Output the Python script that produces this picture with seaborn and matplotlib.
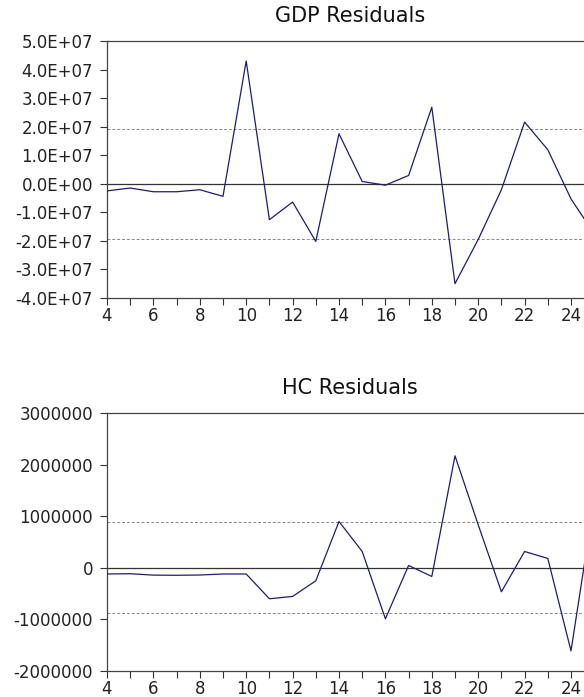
import numpy as np
import pandas as pd
import seaborn as sns
import matplotlib
matplotlib.use("Agg")
import matplotlib.pyplot as plt

# Data
periods = list(range(4, 26))
gdp_resid = [-2.5e6, -1.5e6, -2.8e6, -2.8e6, -2.1e6, -4.4e6, 4.3e7, -1.26e7,
             -6.4e6, -2.02e7, 1.75e7, 0.8e6, -0.5e6, 2.9e6, 2.68e7, -3.5e7,
             -1.95e7, -2.1e6, 2.16e7, 1.19e7, -5.3e6, -1.75e7]
hc_resid = [-120000, -115000, -142000, -145000, -140000, -120000, -120000,
            -600000, -555000, -252000, 897000, 316000, -988000, 45000,
            -168000, 2170000, 833000, -465000, 316000, 181000, -1610000, 1300000]

gdp_band = 1.92e7
hc_band = 880000

gdp_yticks = [5e7, 4e7, 3e7, 2e7, 1e7, 0, -1e7, -2e7, -3e7, -4e7]
gdp_ylabels = ["5.0E+07", "4.0E+07", "3.0E+07", "2.0E+07", "1.0E+07",
               "0.0E+00", "-1.0E+07", "-2.0E+07", "-3.0E+07", "-4.0E+07"]
hc_yticks = [3000000, 2000000, 1000000, 0, -1000000, -2000000]
hc_ylabels = ["3000000", "2000000", "1000000", "0", "-1000000", "-2000000"]
xticks_major = [4, 6, 8, 10, 12, 14, 16, 18, 20, 22, 24]

df = pd.DataFrame({"period": periods, "GDP": gdp_resid, "HC": hc_resid})

sns.set_style("ticks")
plt.rcParams["font.family"] = ["DejaVu Sans"]

fig = plt.figure(figsize=(5.84, 6.97), dpi=100)
# axes run past the right edge, like the cropped original
ax1 = fig.add_axes([0.1832, 0.5725, 0.874, 0.3687])
ax2 = fig.add_axes([0.1832, 0.0373, 0.874, 0.3702])

panels = [
    (ax1, "GDP", "GDP Residuals", gdp_band, gdp_yticks, gdp_ylabels, (-4e7, 5e7)),
    (ax2, "HC", "HC Residuals", hc_band, hc_yticks, hc_ylabels, (-2e6, 3e6)),
]

for ax, col, title, band, yt, yl, ylim in panels:
    ax.axhline(0, color="#333333", lw=0.9, zorder=1)
    ax.axhline(band, color="#888888", lw=0.7, ls=(0, (3, 2)), zorder=1)
    ax.axhline(-band, color="#888888", lw=0.7, ls=(0, (3, 2)), zorder=1)
    sns.lineplot(data=df, x="period", y=col, ax=ax, color="#1c1c78", lw=0.9, zorder=3)
    ax.set_xlim(4, 26)
    ax.set_ylim(*ylim)
    ax.set_yticks(yt)
    ax.set_yticklabels(yl)
    ax.set_xticks(xticks_major)
    ax.set_xticks(periods, minor=True)
    ax.set_xlabel("")
    ax.set_ylabel("")
    ax.set_title(title, fontsize=15, pad=14, x=0.476, color="#111111")
    ax.tick_params(axis="both", which="both", direction="out", length=5,
                   width=0.8, color="#333333", labelsize=12,
                   labelcolor="#222222")
    ax.tick_params(axis="y", pad=5)
    ax.tick_params(axis="x", pad=1.5)
    for s in ax.spines.values():
        s.set_color("#444444")
        s.set_linewidth(0.9)

fig.savefig("out.png", dpi=100)
